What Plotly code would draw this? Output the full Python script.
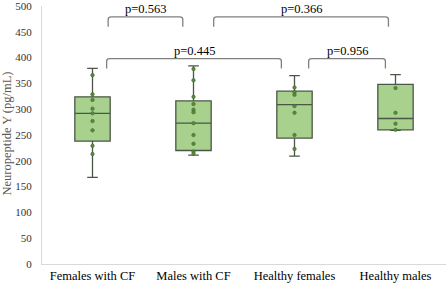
import plotly.graph_objects as go

categories = ["Females with CF", "Males with CF", "Healthy females", "Healthy males"]
q1 = [238, 220, 244, 260]
median = [292, 273, 309, 282]
q3 = [324, 316, 335, 348]
lower = [168, 211, 209, 259]
upper = [379, 384, 365, 367]

points = [
    [366, 329, 318, 301, 292, 277, 259, 229, 213],
    [378, 356, 324, 310, 299, 294, 273, 250, 233, 218, 214],
    [342, 333, 328, 306, 293, 250, 223],
    [341, 293, 272, 260],
]

# brackets: (x0, x1, y_top, label)
brackets = [
    (0.155, 0.894, 479, "p=0.563"),
    (1.2, 2.93, 479, "p=0.366"),
    (0.14, 1.87, 398, "p=0.445"),
    (2.14, 2.9, 398, "p=0.956"),
]
leg = 19

FONT = "Liberation Serif"
xs = list(range(len(categories)))

fig = go.Figure()
fig.add_trace(go.Box(
    x=xs, q1=q1, median=median, q3=q3, lowerfence=lower, upperfence=upper,
    fillcolor="#a9d18e", line=dict(color="#4b5646", width=1.3),
    width=0.35, whiskerwidth=0.3, boxpoints=False, showlegend=False,
    hoverinfo="skip",
))
for i, pts in enumerate(points):
    fig.add_trace(go.Scatter(
        x=[i] * len(pts), y=pts, mode="markers",
        marker=dict(size=3.5, color="#5b8a3d", line=dict(color="#3d6b2a", width=0.6)),
        showlegend=False, hoverinfo="skip",
    ))

for x0, x1, yt, lab in brackets:
    r = 0.03
    ry = 5
    path = (f"M {x0},{yt-leg} L {x0},{yt-ry} Q {x0},{yt} {x0+r},{yt} "
            f"L {x1-r},{yt} Q {x1},{yt} {x1},{yt-ry} L {x1},{yt-leg}")
    fig.add_shape(type="path", path=path, xref="x", yref="y",
                  line=dict(color="#808080", width=1.3))
    fig.add_annotation(x=(x0 + x1) / 2, y=yt, text=lab, showarrow=False,
                       yanchor="bottom", yshift=-1,
                       font=dict(family=FONT, size=12.5, color="#000000"))

# y-axis title as annotation for exact placement
fig.add_annotation(x=-0.087, y=0.505, xref="paper", yref="paper",
                   text="Neuropeptide Y (pg/mL)", textangle=-90, showarrow=False,
                   xanchor="center", yanchor="middle",
                   font=dict(family=FONT, size=12.5, color="#595959"))

fig.update_layout(
    width=447, height=284,
    margin=dict(l=42, r=1, t=6, b=20),
    plot_bgcolor="white", paper_bgcolor="white",
    font=dict(family=FONT),
)
fig.update_xaxes(
    range=[-0.5, 3.5], tickvals=xs, ticktext=categories, automargin=False,
    showgrid=False, zeroline=False, showline=True, linecolor="#d9d9d9", linewidth=1,
    ticks="", tickfont=dict(family=FONT, size=12.5, color="#000000"),
)
fig.update_yaxes(
    range=[0, 500], tickvals=list(range(0, 501, 50)), automargin=False,
    showgrid=False, zeroline=False, showline=True, linecolor="#d9d9d9", linewidth=1,
    ticks="", ticklabelstandoff=7, ticklabeloverflow="allow",
    tickfont=dict(family=FONT, size=11, color="#333333"),
)

fig.write_html("out.html", config={"displayModeBar": False},
               post_script="document.body.style.margin='0';")
